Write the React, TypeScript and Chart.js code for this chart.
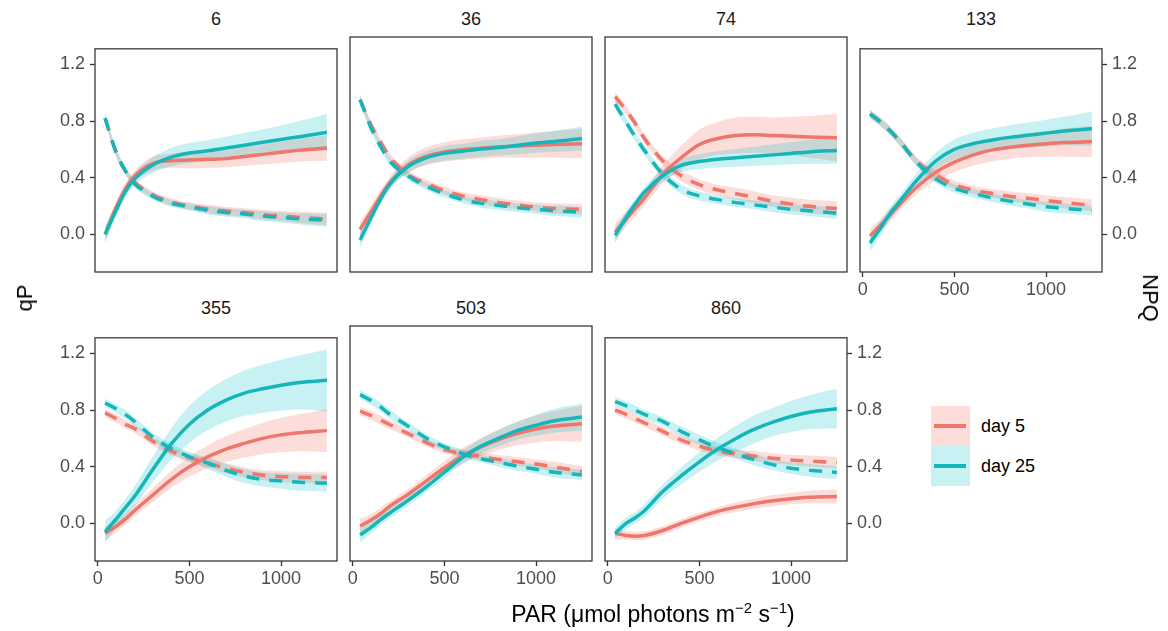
import React, { useEffect, useRef } from "react";
import { Chart, registerables } from "chart.js";
Chart.register(...registerables);

// ---------------- data ----------------
const PAR = [40, 100, 150, 200, 300, 400, 500, 600, 700, 800, 900, 1000, 1100, 1250];
const X_TICKS = [0, 500, 1000];
const Y_TICKS = [0, 0.4, 0.8, 1.2];
const GROUPS = ["day 5", "day 25"];
const FACETS = ["6", "36", "74", "133", "355", "503", "860"];

// facet 6
const qP_6_d5 = [0.0, 0.19, 0.32, 0.41, 0.5, 0.52, 0.525, 0.53, 0.535, 0.55, 0.565, 0.58, 0.595, 0.61];
const qP_6_d25 = [0.0, 0.17, 0.3, 0.39, 0.49, 0.545, 0.575, 0.59, 0.61, 0.63, 0.65, 0.67, 0.69, 0.72];
const NPQ_6_d5 = [0.82, 0.58, 0.45, 0.37, 0.28, 0.23, 0.2, 0.18, 0.165, 0.155, 0.14, 0.13, 0.12, 0.11];
const NPQ_6_d25 = [0.82, 0.58, 0.45, 0.36, 0.27, 0.22, 0.195, 0.17, 0.155, 0.145, 0.13, 0.12, 0.11, 0.1];
const qP_6_d5_se = [0.05, 0.04, 0.04, 0.04, 0.05, 0.05, 0.06, 0.06, 0.06, 0.065, 0.07, 0.075, 0.08, 0.09];
const qP_6_d25_se = [0.06, 0.045, 0.04, 0.045, 0.055, 0.065, 0.07, 0.075, 0.08, 0.085, 0.09, 0.1, 0.11, 0.13];
const NPQ_6_d5_se = [0.03, 0.03, 0.025, 0.025, 0.025, 0.025, 0.025, 0.03, 0.03, 0.03, 0.035, 0.035, 0.04, 0.045];
const NPQ_6_d25_se = [0.03, 0.03, 0.025, 0.025, 0.025, 0.025, 0.025, 0.03, 0.03, 0.03, 0.035, 0.035, 0.04, 0.045];

// facet 36
const qP_36_d5 = [0.02, 0.14, 0.24, 0.33, 0.45, 0.51, 0.54, 0.555, 0.565, 0.575, 0.58, 0.585, 0.59, 0.595];
const qP_36_d25 = [-0.05, 0.1, 0.22, 0.32, 0.44, 0.5, 0.53, 0.545, 0.56, 0.57, 0.585, 0.6, 0.61, 0.63];
const NPQ_36_d5 = [0.89, 0.72, 0.61, 0.51, 0.39, 0.33, 0.28, 0.245, 0.22, 0.2, 0.185, 0.17, 0.16, 0.155];
const NPQ_36_d25 = [0.89, 0.7, 0.58, 0.48, 0.38, 0.31, 0.26, 0.22, 0.195, 0.18, 0.165, 0.155, 0.145, 0.135];
const qP_36_d5_se = [0.05, 0.04, 0.04, 0.04, 0.05, 0.06, 0.065, 0.07, 0.07, 0.075, 0.08, 0.085, 0.09, 0.1];
const qP_36_d25_se = [0.05, 0.04, 0.035, 0.035, 0.04, 0.045, 0.05, 0.05, 0.055, 0.055, 0.06, 0.065, 0.07, 0.08];
const NPQ_36_d5_se = [0.03, 0.03, 0.025, 0.025, 0.025, 0.025, 0.025, 0.025, 0.03, 0.03, 0.03, 0.03, 0.035, 0.035];
const NPQ_36_d25_se = [0.03, 0.03, 0.025, 0.025, 0.025, 0.025, 0.025, 0.025, 0.03, 0.03, 0.03, 0.03, 0.035, 0.035];

// facet 74
const qP_74_d5 = [0.0, 0.09, 0.16, 0.23, 0.39, 0.5, 0.59, 0.63, 0.65, 0.655, 0.65, 0.645, 0.64, 0.635];
const qP_74_d25 = [-0.02, 0.1, 0.19, 0.27, 0.38, 0.45, 0.475, 0.49, 0.5, 0.51, 0.52, 0.53, 0.54, 0.55];
const NPQ_74_d5 = [0.91, 0.82, 0.73, 0.63, 0.48, 0.38, 0.32, 0.285, 0.26, 0.235, 0.21, 0.19, 0.175, 0.16];
const NPQ_74_d25 = [0.86, 0.74, 0.64, 0.55, 0.39, 0.29, 0.245, 0.22, 0.2, 0.185, 0.17, 0.155, 0.145, 0.13];
const qP_74_d5_se = [0.06, 0.05, 0.05, 0.05, 0.06, 0.08, 0.1, 0.11, 0.12, 0.12, 0.12, 0.13, 0.14, 0.16];
const qP_74_d25_se = [0.05, 0.04, 0.035, 0.035, 0.04, 0.045, 0.05, 0.055, 0.06, 0.065, 0.07, 0.075, 0.08, 0.09];
const NPQ_74_d5_se = [0.03, 0.03, 0.03, 0.03, 0.03, 0.035, 0.035, 0.035, 0.04, 0.04, 0.04, 0.045, 0.045, 0.05];
const NPQ_74_d25_se = [0.03, 0.03, 0.03, 0.03, 0.03, 0.03, 0.03, 0.03, 0.03, 0.03, 0.035, 0.035, 0.035, 0.04];

// facet 133
const qP_133_d5 = [-0.01, 0.07, 0.14, 0.21, 0.34, 0.44, 0.51, 0.56, 0.595, 0.615, 0.63, 0.64, 0.648, 0.655];
const qP_133_d25 = [-0.06, 0.05, 0.15, 0.23, 0.39, 0.52, 0.6, 0.64, 0.665, 0.685, 0.7, 0.715, 0.73, 0.745];
const NPQ_133_d5 = [0.85, 0.79, 0.73, 0.66, 0.51, 0.42, 0.35, 0.315, 0.29, 0.27, 0.255, 0.24, 0.225, 0.206];
const NPQ_133_d25 = [0.85, 0.79, 0.73, 0.66, 0.5, 0.39, 0.325, 0.29, 0.26, 0.235, 0.215, 0.195, 0.183, 0.168];
const qP_133_d5_se = [0.05, 0.045, 0.045, 0.045, 0.05, 0.06, 0.07, 0.075, 0.08, 0.08, 0.085, 0.09, 0.1, 0.11];
const qP_133_d25_se = [0.06, 0.05, 0.045, 0.045, 0.05, 0.06, 0.07, 0.075, 0.08, 0.085, 0.09, 0.095, 0.1, 0.12];
const NPQ_133_d5_se = [0.03, 0.03, 0.03, 0.03, 0.03, 0.03, 0.03, 0.03, 0.03, 0.035, 0.035, 0.035, 0.04, 0.04];
const NPQ_133_d25_se = [0.03, 0.03, 0.03, 0.03, 0.03, 0.03, 0.03, 0.03, 0.03, 0.03, 0.03, 0.035, 0.035, 0.035];

// facet 355
const qP_355_d5 = [-0.07, -0.02, 0.03, 0.09, 0.2, 0.31, 0.4, 0.47, 0.525, 0.565, 0.6, 0.625, 0.64, 0.655];
const qP_355_d25 = [-0.06, 0.03, 0.11, 0.19, 0.38, 0.56, 0.7, 0.8, 0.87, 0.92, 0.95, 0.975, 0.995, 1.01];
const NPQ_355_d5 = [0.78, 0.74, 0.7, 0.67, 0.58, 0.51, 0.465, 0.425, 0.39, 0.36, 0.34, 0.33, 0.325, 0.325];
const NPQ_355_d25 = [0.85, 0.81, 0.77, 0.72, 0.61, 0.53, 0.47, 0.425, 0.375, 0.335, 0.31, 0.3, 0.29, 0.285];
const qP_355_d5_se = [0.05, 0.04, 0.04, 0.04, 0.05, 0.06, 0.07, 0.08, 0.09, 0.1, 0.11, 0.12, 0.13, 0.15];
const qP_355_d25_se = [0.08, 0.06, 0.06, 0.07, 0.09, 0.11, 0.13, 0.14, 0.15, 0.16, 0.17, 0.18, 0.19, 0.22];
const NPQ_355_d5_se = [0.03, 0.03, 0.03, 0.03, 0.03, 0.03, 0.03, 0.03, 0.035, 0.035, 0.035, 0.04, 0.04, 0.04];
const NPQ_355_d25_se = [0.03, 0.03, 0.03, 0.03, 0.03, 0.035, 0.035, 0.04, 0.045, 0.05, 0.05, 0.055, 0.06, 0.06];

// facet 503
const qP_503_d5 = [-0.03, 0.01, 0.05, 0.1, 0.18, 0.27, 0.36, 0.44, 0.5, 0.55, 0.59, 0.62, 0.64, 0.655];
const qP_503_d25 = [-0.09, -0.04, 0.01, 0.055, 0.14, 0.23, 0.33, 0.43, 0.505, 0.56, 0.61, 0.645, 0.675, 0.7];
const NPQ_503_d5 = [0.74, 0.71, 0.68, 0.65, 0.59, 0.53, 0.48, 0.455, 0.435, 0.415, 0.4, 0.385, 0.365, 0.335];
const NPQ_503_d25 = [0.85, 0.81, 0.77, 0.72, 0.64, 0.56, 0.5, 0.455, 0.42, 0.395, 0.37, 0.35, 0.33, 0.312];
const qP_503_d5_se = [0.05, 0.04, 0.04, 0.035, 0.035, 0.04, 0.045, 0.05, 0.06, 0.07, 0.08, 0.09, 0.1, 0.12];
const qP_503_d25_se = [0.05, 0.04, 0.035, 0.035, 0.035, 0.035, 0.04, 0.045, 0.05, 0.055, 0.06, 0.07, 0.08, 0.09];
const NPQ_503_d5_se = [0.03, 0.03, 0.03, 0.03, 0.025, 0.025, 0.025, 0.025, 0.025, 0.03, 0.03, 0.03, 0.035, 0.035];
const NPQ_503_d25_se = [0.03, 0.03, 0.03, 0.03, 0.025, 0.025, 0.025, 0.025, 0.025, 0.03, 0.03, 0.03, 0.035, 0.035];

// facet 860
const qP_860_d5 = [-0.07, -0.085, -0.09, -0.085, -0.05, 0.0, 0.045, 0.085, 0.115, 0.14, 0.16, 0.175, 0.185, 0.19];
const qP_860_d25 = [-0.07, 0.0, 0.04, 0.09, 0.225, 0.335, 0.435, 0.525, 0.6, 0.665, 0.715, 0.755, 0.785, 0.81];
const NPQ_860_d5 = [0.8, 0.77, 0.74, 0.71, 0.65, 0.59, 0.545, 0.51, 0.49, 0.475, 0.46, 0.448, 0.44, 0.43];
const NPQ_860_d25 = [0.86, 0.83, 0.8, 0.77, 0.72, 0.65, 0.59, 0.535, 0.49, 0.45, 0.415, 0.39, 0.375, 0.36];
const qP_860_d5_se = [0.04, 0.03, 0.03, 0.03, 0.03, 0.03, 0.03, 0.03, 0.035, 0.035, 0.04, 0.04, 0.045, 0.05];
const qP_860_d25_se = [0.04, 0.04, 0.04, 0.045, 0.05, 0.06, 0.07, 0.08, 0.09, 0.1, 0.1, 0.11, 0.12, 0.14];
const NPQ_860_d5_se = [0.03, 0.03, 0.03, 0.03, 0.03, 0.03, 0.03, 0.03, 0.03, 0.035, 0.035, 0.035, 0.04, 0.04];
const NPQ_860_d25_se = [0.03, 0.03, 0.03, 0.03, 0.03, 0.035, 0.035, 0.035, 0.035, 0.04, 0.04, 0.04, 0.045, 0.045];

// ---------------- styling / layout ----------------
const FONT = '"Liberation Sans", Arial, Helvetica, sans-serif';
const LINE_COLORS = ["#EE766C", "#14B6BA"];
const RIBBON_COLORS = ["rgba(248,118,109,0.25)", "rgba(0,191,196,0.22)"];
const X_MIN = -15;
const X_MAX = 1305;
const Y_MIN = -0.265;
const Y_MAX = 1.31;

const COL_LEFT = [95, 350, 605, 860];
const ROW_TOP = [37, 326];
const PW = 242;
const PH = 235;
const M = 70; // horizontal margin inside canvas
const MT = 4; // top margin inside canvas
const MB = 40; // bottom margin inside canvas

type Curve = { group: number; dashed: boolean; values: number[]; se: number[] };
type PanelDef = {
  title: string;
  col: number;
  row: number;
  yLeft: boolean;
  yRight: boolean;
  xAxis: boolean;
  curves: Curve[];
};

const mk = (q5: number[], q5s: number[], q25: number[], q25s: number[], n5: number[], n5s: number[], n25: number[], n25s: number[]): Curve[] => [
  { group: 1, dashed: false, values: q25, se: q25s },
  { group: 1, dashed: true, values: n25, se: n25s },
  { group: 0, dashed: false, values: q5, se: q5s },
  { group: 0, dashed: true, values: n5, se: n5s },
];

const PANELS: PanelDef[] = [
  { title: FACETS[0], col: 0, row: 0, yLeft: true, yRight: false, xAxis: false, curves: mk(qP_6_d5, qP_6_d5_se, qP_6_d25, qP_6_d25_se, NPQ_6_d5, NPQ_6_d5_se, NPQ_6_d25, NPQ_6_d25_se) },
  { title: FACETS[1], col: 1, row: 0, yLeft: false, yRight: false, xAxis: false, curves: mk(qP_36_d5, qP_36_d5_se, qP_36_d25, qP_36_d25_se, NPQ_36_d5, NPQ_36_d5_se, NPQ_36_d25, NPQ_36_d25_se) },
  { title: FACETS[2], col: 2, row: 0, yLeft: false, yRight: false, xAxis: false, curves: mk(qP_74_d5, qP_74_d5_se, qP_74_d25, qP_74_d25_se, NPQ_74_d5, NPQ_74_d5_se, NPQ_74_d25, NPQ_74_d25_se) },
  { title: FACETS[3], col: 3, row: 0, yLeft: false, yRight: true, xAxis: true, curves: mk(qP_133_d5, qP_133_d5_se, qP_133_d25, qP_133_d25_se, NPQ_133_d5, NPQ_133_d5_se, NPQ_133_d25, NPQ_133_d25_se) },
  { title: FACETS[4], col: 0, row: 1, yLeft: true, yRight: false, xAxis: true, curves: mk(qP_355_d5, qP_355_d5_se, qP_355_d25, qP_355_d25_se, NPQ_355_d5, NPQ_355_d5_se, NPQ_355_d25, NPQ_355_d25_se) },
  { title: FACETS[5], col: 1, row: 1, yLeft: false, yRight: false, xAxis: true, curves: mk(qP_503_d5, qP_503_d5_se, qP_503_d25, qP_503_d25_se, NPQ_503_d5, NPQ_503_d5_se, NPQ_503_d25, NPQ_503_d25_se) },
  { title: FACETS[6], col: 2, row: 1, yLeft: false, yRight: true, xAxis: true, curves: mk(qP_860_d5, qP_860_d5_se, qP_860_d25, qP_860_d25_se, NPQ_860_d5, NPQ_860_d5_se, NPQ_860_d25, NPQ_860_d25_se) },
];

const borderPlugin = {
  id: "panelBorder",
  afterDatasetsDraw(chart: any) {
    const { ctx, chartArea } = chart;
    ctx.save();
    ctx.strokeStyle = "#3a3a3a";
    ctx.lineWidth = 1.3;
    ctx.strokeRect(chartArea.left, chartArea.top, chartArea.right - chartArea.left, chartArea.bottom - chartArea.top);
    ctx.restore();
  },
};

function Panel({ p }: { p: PanelDef }) {
  const ref = useRef<HTMLCanvasElement>(null);
  useEffect(() => {
    if (!ref.current) return;
    const datasets: any[] = [];
    p.curves.forEach((c) => {
      datasets.push({
        data: PAR.map((x, i) => ({ x, y: c.values[i] - c.se[i] })),
        borderWidth: 0,
        borderColor: "rgba(0,0,0,0)",
        pointRadius: 0,
        fill: false,
        order: 10,
        cubicInterpolationMode: "monotone",
      });
      datasets.push({
        data: PAR.map((x, i) => ({ x, y: c.values[i] + c.se[i] })),
        borderWidth: 0,
        borderColor: "rgba(0,0,0,0)",
        backgroundColor: RIBBON_COLORS[c.group],
        pointRadius: 0,
        fill: "-1",
        order: 10,
        cubicInterpolationMode: "monotone",
      });
    });
    p.curves.forEach((c) => {
      datasets.push({
        data: PAR.map((x, i) => ({ x, y: c.values[i] })),
        borderColor: LINE_COLORS[c.group],
        borderWidth: 3.5,
        borderDash: c.dashed ? [13, 10] : [],
        pointRadius: 0,
        fill: false,
        order: 0,
        cubicInterpolationMode: "monotone",
      });
    });

    const tickFont = { size: 18, family: FONT };
    const chart = new Chart(ref.current, {
      type: "line",
      data: { datasets },
      plugins: [borderPlugin],
      options: {
        animation: false,
        responsive: false,
        devicePixelRatio: 1,
        events: [],
        layout: {
          padding: {
            left: p.yLeft ? 0 : M,
            right: p.yRight ? 0 : M,
            top: MT,
            bottom: p.xAxis ? 0 : MB,
          },
        },
        plugins: { legend: { display: false }, tooltip: { enabled: false } },
        scales: {
          x: {
            type: "linear",
            min: X_MIN,
            max: X_MAX,
            display: p.xAxis,
            position: "bottom",
            afterBuildTicks: (s: any) => {
              s.ticks = X_TICKS.map((v) => ({ value: v }));
            },
            afterFit: (s: any) => {
              s.height = p.xAxis ? MB : 0;
            },
            grid: { display: true, drawOnChartArea: false, drawTicks: true, tickLength: 5, tickColor: "#333", tickWidth: 1.3 },
            border: { display: false },
            ticks: { color: "#4d4d4d", font: tickFont, padding: 2, maxRotation: 0, autoSkip: false, callback: (v: any) => String(v) },
          },
          y: {
            type: "linear",
            min: Y_MIN,
            max: Y_MAX,
            display: p.yLeft || p.yRight,
            position: p.yRight ? "right" : "left",
            afterBuildTicks: (s: any) => {
              s.ticks = Y_TICKS.map((v) => ({ value: v }));
            },
            afterFit: (s: any) => {
              s.width = p.yLeft || p.yRight ? M : 0;
            },
            grid: { display: true, drawOnChartArea: false, drawTicks: true, tickLength: 5, tickColor: "#333", tickWidth: 1.3 },
            border: { display: false },
            ticks: { color: "#4d4d4d", font: tickFont, padding: 5, callback: (v: any) => Number(v).toFixed(1) },
          },
        },
      },
    } as any);
    return () => chart.destroy();
  }, [p]);

  const w = PW + 2 * M;
  const h = PH + MT + MB;
  return (
    <canvas
      ref={ref}
      width={w}
      height={h}
      style={{ position: "absolute", left: COL_LEFT[p.col] - M, top: ROW_TOP[p.row] - MT, width: w, height: h }}
    />
  );
}

export default function App() {
  const textBase: React.CSSProperties = { position: "absolute", fontFamily: FONT, whiteSpace: "nowrap" };
  return (
    <div style={{ position: "absolute", left: 0, top: 0, width: 1168, height: 631, background: "#fff", overflow: "hidden" }}>
      {PANELS.map((p) => (
        <div
          key={"t" + p.title}
          style={{ ...textBase, left: COL_LEFT[p.col], width: PW, top: ROW_TOP[p.row] - 30, height: 24, lineHeight: "24px", textAlign: "center", fontSize: 18, color: "#1a1a1a" }}
        >
          {p.title}
        </div>
      ))}
      {PANELS.map((p) => (
        <Panel key={"p" + p.title} p={p} />
      ))}
      {/* axis titles */}
      <div style={{ ...textBase, left: 25, top: 298, fontSize: 22, color: "#000", transform: "translate(-50%, -50%) rotate(-90deg)", lineHeight: "26px" }}>qP</div>
      <div style={{ ...textBase, left: 1150, top: 298, fontSize: 22, color: "#000", transform: "translate(-50%, -50%) rotate(90deg)", lineHeight: "26px" }}>NPQ</div>
      <div style={{ ...textBase, left: 653, top: 614, fontSize: 23, color: "#000", transform: "translate(-50%, -50%)", lineHeight: "26px" }}>
        PAR (μmol photons m<sup style={{ fontSize: 15, verticalAlign: "9px", lineHeight: 0 }}>−2</sup> s<sup style={{ fontSize: 15, verticalAlign: "9px", lineHeight: 0 }}>−1</sup>)
      </div>
      {/* legend */}
      {GROUPS.map((g, i) => (
        <React.Fragment key={g}>
          <div style={{ position: "absolute", left: 931, top: 406 + i * 40, width: 39, height: 40, background: RIBBON_COLORS[i] }} />
          <div style={{ position: "absolute", left: 934, top: 424 + i * 40, width: 32, height: 4, background: LINE_COLORS[i] }} />
          <div style={{ ...textBase, left: 981, top: 414 + i * 40, height: 24, lineHeight: "24px", fontSize: 18, color: "#000" }}>{g}</div>
        </React.Fragment>
      ))}
    </div>
  );
}
